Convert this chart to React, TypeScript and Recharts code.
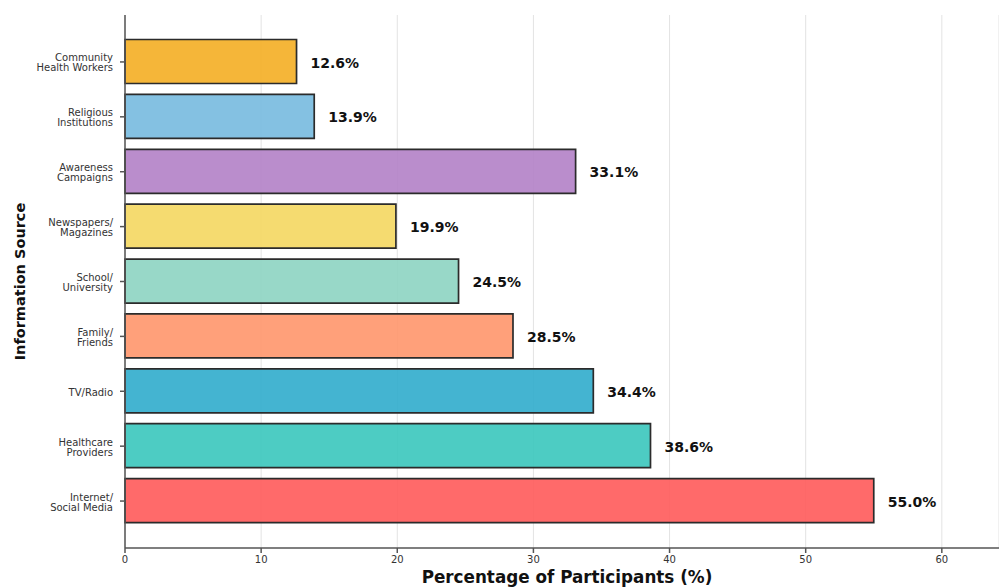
import React from "react";
import {
  BarChart,
  Bar,
  XAxis,
  YAxis,
  CartesianGrid,
  LabelList,
  Cell,
} from "recharts";

// Sources listed top to bottom
const sources = [
  "Community\nHealth Workers",
  "Religious\nInstitutions",
  "Awareness\nCampaigns",
  "Newspapers/\nMagazines",
  "School/\nUniversity",
  "Family/\nFriends",
  "TV/Radio",
  "Healthcare\nProviders",
  "Internet/\nSocial Media",
];

const percentages = [12.6, 13.9, 33.1, 19.9, 24.5, 28.5, 34.4, 38.6, 55.0];

const barColors = [
  "#F4AE24",
  "#77BADF",
  "#B281C6",
  "#F4D760",
  "#8DD4C2",
  "#FF966B",
  "#30ACCC",
  "#3AC7BD",
  "#FF5A5A",
];

const xTicks = [0, 10, 20, 30, 40, 50, 60];

const data = sources.map((source, i) => ({
  source,
  pct: percentages[i],
}));

const FONT = "'DejaVu Sans', sans-serif";

function SourceTick(props: any) {
  const { x, y, payload } = props;
  const lines: string[] = String(payload.value).split("\n");
  const offset = (lines.length - 1) * 5;
  return (
    <g>
      {lines.map((line, i) => (
        <text
          key={i}
          x={x}
          y={y - offset + i * 10 + 1}
          textAnchor="end"
          dominantBaseline="central"
          fontSize={10}
          fontFamily={FONT}
          fill="#333"
        >
          {line}
        </text>
      ))}
    </g>
  );
}

function ValueLabel(props: any) {
  const { x, y, width, height, value } = props;
  return (
    <text
      x={x + width + 14}
      y={y + height / 2 + 1}
      dominantBaseline="central"
      fontSize={14}
      fontWeight="bold"
      fontFamily={FONT}
      fill="#111"
    >
      {Number(value).toFixed(1)}%
    </text>
  );
}

export default function App() {
  return (
    <div style={{ position: "absolute", left: 0, top: 0, background: "#fff" }}>
      <BarChart
        width={999}
        height={587}
        data={data}
        layout="vertical"
        margin={{ top: 15, right: 0, bottom: 0, left: 0 }}
      >
        <CartesianGrid horizontal={false} stroke="#e3e3e3" strokeWidth={1} />
        <XAxis
          type="number"
          domain={[0, 64.2]}
          ticks={xTicks}
          height={39}
          tickSize={5}
          tickMargin={3}
          stroke="#555"
          strokeWidth={1.5}
          tick={{ fontSize: 10, fontFamily: FONT, fill: "#333" }}
          label={() => (
            <text
              x={567}
              y={583}
              textAnchor="middle"
              fontSize={16.8}
              fontWeight="bold"
              fontFamily={FONT}
              fill="#111"
            >
              Percentage of Participants (%)
            </text>
          )}
        />
        {/* top border of the plot */}
        <XAxis
          xAxisId="top"
          orientation="top"
          type="number"
          domain={[0, 64.2]}
          height={0}
          tick={false}
          tickLine={false}
          stroke="#777"
          strokeWidth={1.5}
        />
        <YAxis
          type="category"
          dataKey="source"
          width={125}
          tickSize={5}
          tickMargin={7}
          stroke="#555"
          strokeWidth={1.5}
          interval={0}
          padding={{ top: 19.5, bottom: 19.5 }}
          tick={<SourceTick />}
          label={() => (
            <text
              x={20}
              y={281.5}
              transform="rotate(-90 20 281.5)"
              textAnchor="middle"
              dominantBaseline="central"
              fontSize={14.5}
              fontWeight="bold"
              fontFamily={FONT}
              fill="#111"
            >
              Information Source
            </text>
          )}
        />
        <Bar
          dataKey="pct"
          barSize={44}
          stroke="#2b2b2b"
          strokeWidth={1.7}
          fillOpacity={0.9}
          isAnimationActive={false}
        >
          {data.map((d, i) => (
            <Cell key={d.source} fill={barColors[i]} />
          ))}
          <LabelList dataKey="pct" content={<ValueLabel />} />
        </Bar>
      </BarChart>
    </div>
  );
}
